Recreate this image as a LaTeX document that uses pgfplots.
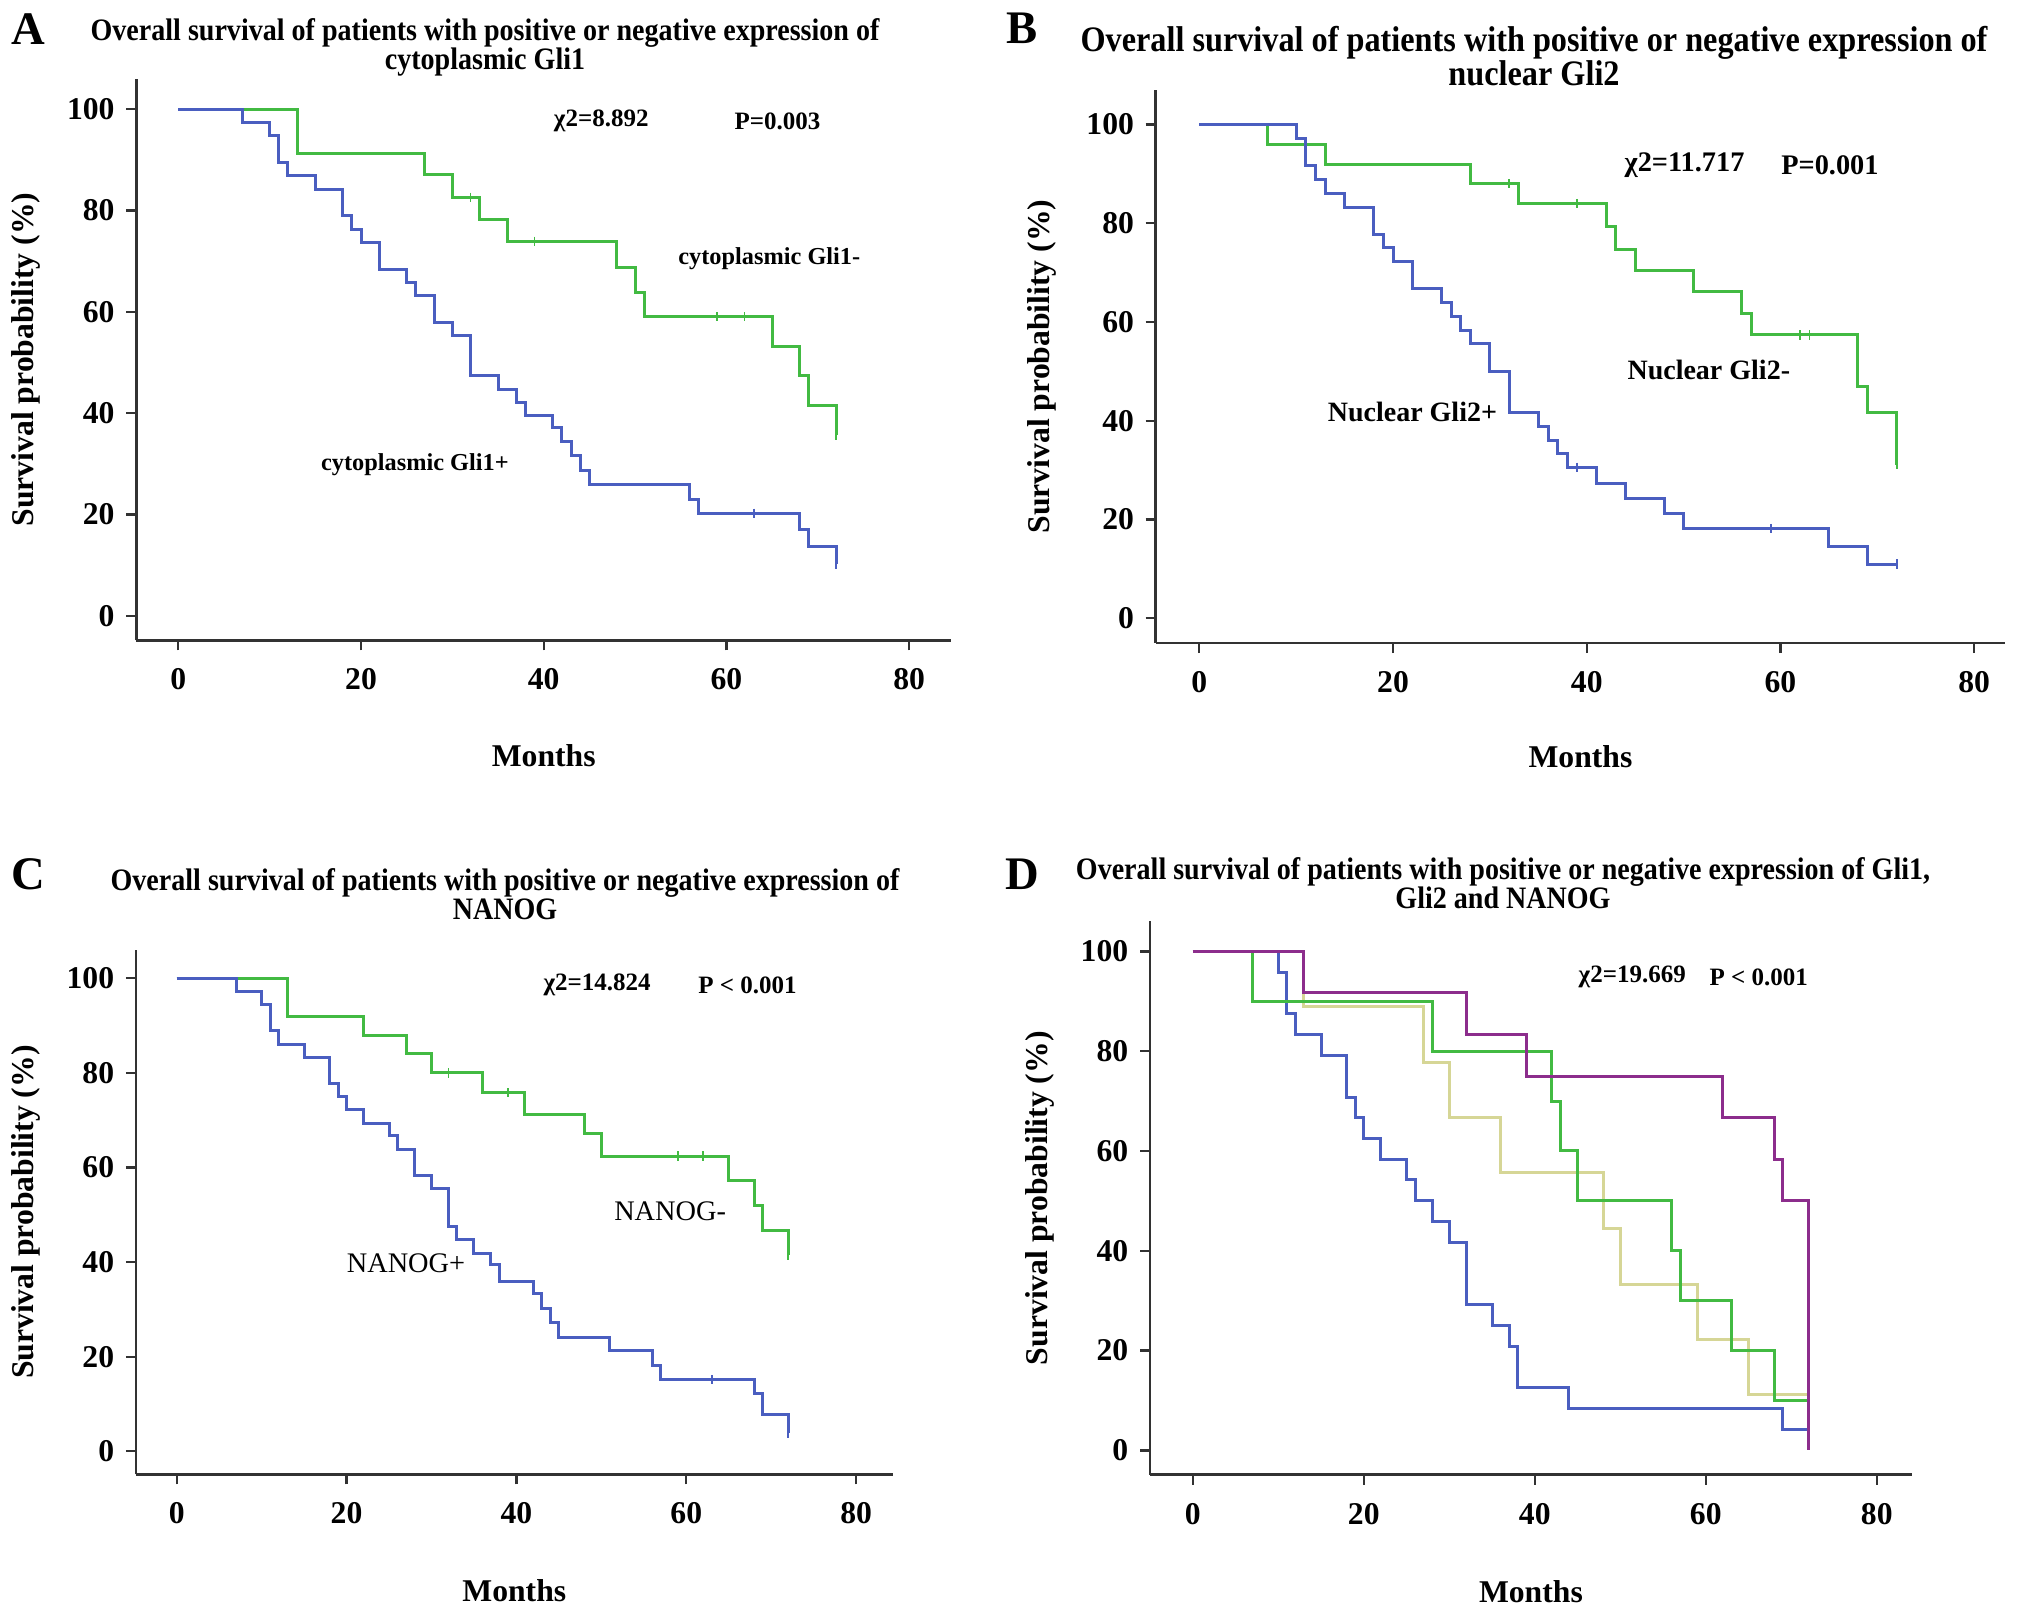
\documentclass[border=0pt]{standalone}
\usepackage{fontspec}
\setmainfont{Liberation Serif}
\newfontfamily\titlefont[FakeStretch=0.9]{Liberation Serif}
\usepackage{pgfplots}
\pgfplotsset{compat=1.18}

\definecolor{kmblue}{RGB}{74,94,192}
\definecolor{kmgreen}{RGB}{66,186,66}
\definecolor{kmpurple}{RGB}{140,45,140}
\definecolor{kmkhaki}{RGB}{214,214,150}
\definecolor{axgray}{RGB}{50,50,50}

\pgfplotsset{
  km/.style={
    scale only axis, axis lines*=left, tick align=outside,
    xtick={0,20,40,60,80}, ytick={0,20,40,60,80,100},
    axis line style={line width=0.8pt, axgray},
    major tick style={line width=0.7pt, axgray},
    major tick length=3pt,
    ticklabel style={font=\bfseries\fontsize{9.5}{11}\selectfont},
    xticklabel style={yshift=-2pt},
    /pgf/number format/assume math mode=true,
    clip=false,
  },
  st/.style={const plot, line width=0.9pt, no marks},
  cm/.style={only marks, mark=|, mark size=1.4pt, mark options={line width=0.5pt}},
}
\newcommand{\labfont}{\bfseries\fontsize{9.5}{11}\selectfont}
\newcommand{\ttl}[2]{\titlefont\bfseries\fontsize{#1}{#2}\selectfont}

\begin{document}
\begin{tikzpicture}
\useasboundingbox (0,0) rectangle (609.3pt,485.1pt);

% panel letters and titles
\node[font=\bfseries\fontsize{14}{14}\selectfont] at (8.4pt,476.5pt) {A};
\node[font=\bfseries\fontsize{14}{14}\selectfont] at (306.6pt,476.7pt) {B};
\node[font=\bfseries\fontsize{14}{14}\selectfont] at (8.4pt,222.9pt) {C};
\node[font=\bfseries\fontsize{14}{14}\selectfont] at (306.6pt,222.9pt) {D};
\node[align=center, font=\ttl{9.35}{8.7}] at (145.5pt,470.8pt) {Overall survival of patients with positive or negative expression of\\cytoplasmic Gli1};
\node[align=center, font=\ttl{10.75}{10.1}] at (460.2pt,468.3pt) {Overall survival of patients with positive or negative expression of\\nuclear Gli2};
\node[align=center, font=\ttl{9.35}{8.7}] at (151.5pt,216.8pt) {Overall survival of patients with positive or negative expression of\\NANOG};
\node[align=center, font=\ttl{9.35}{8.6}] at (450.9pt,220.1pt) {Overall survival of patients with positive or negative expression of Gli1,\\Gli2 and NANOG};

% ---------------- A ----------------
\begin{axis}[km, at={(40.89pt,293.0pt)}, anchor=south west,
  width=244.44pt, height=168.5pt, xmin=-4.6, xmax=84.6, ymin=-4.86, ymax=106]
\addplot[st, kmgreen] coordinates {(0,100) (13,91.3) (27,87.0) (30,82.6) (33,78.3) (36,73.9) (48,68.8) (50,63.7) (51,59.0) (65,53.2) (68,47.4) (69,41.4) (72,35.6)};
\addplot[cm, kmgreen] coordinates {(32,82.6) (39,73.9) (59,59.0) (62,59.0) (72,35.6)};
\addplot[st, kmblue] coordinates {(0,100) (7,97.4) (10,94.7) (11,89.5) (12,86.8) (15,84.2) (18,78.9) (19,76.3) (20,73.7) (22,68.4) (25,65.8) (26,63.2) (28,57.9) (30,55.3) (32,47.4) (35,44.7) (37,42.1) (38,39.5) (41,37.2) (42,34.4) (43,31.6) (44,28.6) (45,25.8) (56,23.0) (57,20.2) (68,17.0) (69,13.7) (72,10.2)};
\addplot[cm, kmblue] coordinates {(63,20.2) (72,10.2)};
\node[font=\bfseries\fontsize{7.5}{9}\selectfont] at (axis cs:46.3,97.6) {χ2=8.892};
\node[font=\bfseries\fontsize{7.5}{9}\selectfont] at (axis cs:65.6,97.6) {P=0.003};
\node[font=\bfseries\fontsize{7.3}{9}\selectfont] at (axis cs:64.7,70.5) {cytoplasmic Gli1-};
\node[font=\bfseries\fontsize{7.3}{9}\selectfont] at (axis cs:25.9,29.9) {cytoplasmic Gli1+};
\node[font=\labfont] at ([yshift=-34.5pt]rel axis cs:0.5,0) {Months};
\node[font=\labfont, rotate=90] at ([xshift=-33pt]rel axis cs:0,0.5) {Survival probability (\%)};
\end{axis}

% ---------------- B ----------------
\begin{axis}[km, at={(346.71pt,292.2pt)}, anchor=south west,
  width=254.85pt, height=165.9pt, xmin=-4.5, xmax=83.2, ymin=-5, ymax=107]
\addplot[st, kmgreen] coordinates {(0,100) (7,96.0) (13,92.0) (28,88.0) (33,84.0) (42,79.4) (43,74.7) (45,70.4) (51,66.2) (56,61.8) (57,57.4) (68,46.9) (69,41.6) (72,31.1)};
\addplot[cm, kmgreen] coordinates {(32,88.0) (39,84.0) (62,57.4) (63,57.4) (72,31.1)};
\addplot[st, kmblue] coordinates {(0,100) (10,97.2) (11,91.7) (12,88.9) (13,86.1) (15,83.3) (18,77.8) (19,75.0) (20,72.2) (22,66.7) (25,63.9) (26,61.1) (27,58.3) (28,55.6) (30,50.0) (32,41.7) (35,38.9) (36,36.1) (37,33.3) (38,30.6) (41,27.4) (44,24.3) (48,21.3) (50,18.2) (65,14.6) (69,11.0) (72,11.0)};
\addplot[cm, kmblue] coordinates {(39,30.6) (59,18.2) (72,11.0)};
\node[font=\bfseries\fontsize{8.5}{10}\selectfont] at (axis cs:50.1,91.8) {χ2=11.717};
\node[font=\bfseries\fontsize{8.5}{10}\selectfont] at (axis cs:65.1,91.8) {P=0.001};
\node[font=\bfseries\fontsize{8.4}{10}\selectfont] at (axis cs:52.6,50.2) {Nuclear Gli2-};
\node[font=\bfseries\fontsize{8.4}{10}\selectfont] at (axis cs:22.0,41.8) {Nuclear Gli2+};
\node[font=\labfont] at ([yshift=-34pt]rel axis cs:0.5,0) {Months};
\node[font=\labfont, rotate=90] at ([xshift=-34pt]rel axis cs:0,0.5) {Survival probability (\%)};
\end{axis}

% ---------------- C ----------------
\begin{axis}[km, at={(40.77pt,42.81pt)}, anchor=south west,
  width=227.04pt, height=157.32pt, xmin=-4.8, xmax=84.3, ymin=-4.86, ymax=106]
\addplot[st, kmgreen] coordinates {(0,100) (13,92.0) (22,88.0) (27,84.0) (30,80.0) (36,75.8) (41,71.3) (48,67.1) (50,62.4) (65,57.2) (68,51.9) (69,46.6) (72,41.5)};
\addplot[cm, kmgreen] coordinates {(32,80.0) (39,75.8) (59,62.4) (62,62.4) (72,41.5)};
\addplot[st, kmblue] coordinates {(0,100) (7,97.2) (10,94.4) (11,88.9) (12,86.1) (15,83.3) (18,77.8) (19,75.0) (20,72.2) (22,69.4) (25,66.7) (26,63.9) (28,58.3) (30,55.6) (32,47.5) (33,44.7) (35,41.9) (37,39.4) (38,35.9) (42,33.4) (43,30.2) (44,27.2) (45,24.1) (51,21.3) (56,18.2) (57,15.2) (68,12.3) (69,7.7) (72,3.8)};
\addplot[cm, kmblue] coordinates {(63,15.2) (72,3.8)};
\node[font=\bfseries\fontsize{7.5}{9}\selectfont] at (axis cs:49.5,98.6) {χ2=14.824};
\node[font=\bfseries\fontsize{7.5}{9}\selectfont] at (axis cs:67.2,98.6) {P < 0.001};
\node[font=\fontsize{8.5}{10}\selectfont] at (axis cs:58.1,50.7) {NANOG-};
\node[font=\fontsize{8.5}{10}\selectfont] at (axis cs:27.0,39.7) {NANOG+};
\node[font=\labfont] at ([yshift=-35pt]rel axis cs:0.5,0) {Months};
\node[font=\labfont, rotate=90] at ([xshift=-33pt]rel axis cs:0,0.5) {Survival probability (\%)};
\end{axis}

% ---------------- D ----------------
\begin{axis}[km, at={(345.0pt,42.66pt)}, anchor=south west,
  width=228.54pt, height=166.0pt, xmin=-5, xmax=84.1, ymin=-4.9, ymax=106]
\addplot[st, kmblue] coordinates {(0,100) (10,95.8) (11,87.5) (12,83.3) (15,79.2) (18,70.8) (19,66.7) (20,62.5) (22,58.3) (25,54.2) (26,50.0) (28,45.8) (30,41.7) (32,29.2) (35,25.0) (37,20.8) (38,12.5) (44,8.3) (69,4.2) (72,4.2)};
\addplot[st, kmkhaki] coordinates {(0,100) (13,88.9) (27,77.8) (30,66.7) (36,55.6) (48,44.4) (50,33.3) (59,22.2) (65,11.1) (72,11.1)};
\addplot[st, kmgreen] coordinates {(0,100) (7,90) (28,80) (42,70) (43,60) (45,50) (56,40) (57,30) (63,20) (68,10) (72,10)};
\addplot[st, kmpurple] coordinates {(0,100) (13,91.7) (32,83.3) (39,75.0) (62,66.7) (68,58.3) (69,50.0) (72,0)};
\node[font=\bfseries\fontsize{7.5}{9}\selectfont] at (axis cs:51.4,94.8) {χ2=19.669};
\node[font=\bfseries\fontsize{7.5}{9}\selectfont] at (axis cs:66.2,94.8) {P < 0.001};
\node[font=\labfont] at ([yshift=-35pt]rel axis cs:0.5,0) {Months};
\node[font=\labfont, rotate=90] at ([xshift=-33pt]rel axis cs:0,0.5) {Survival probability (\%)};
\end{axis}
\end{tikzpicture}
\end{document}
